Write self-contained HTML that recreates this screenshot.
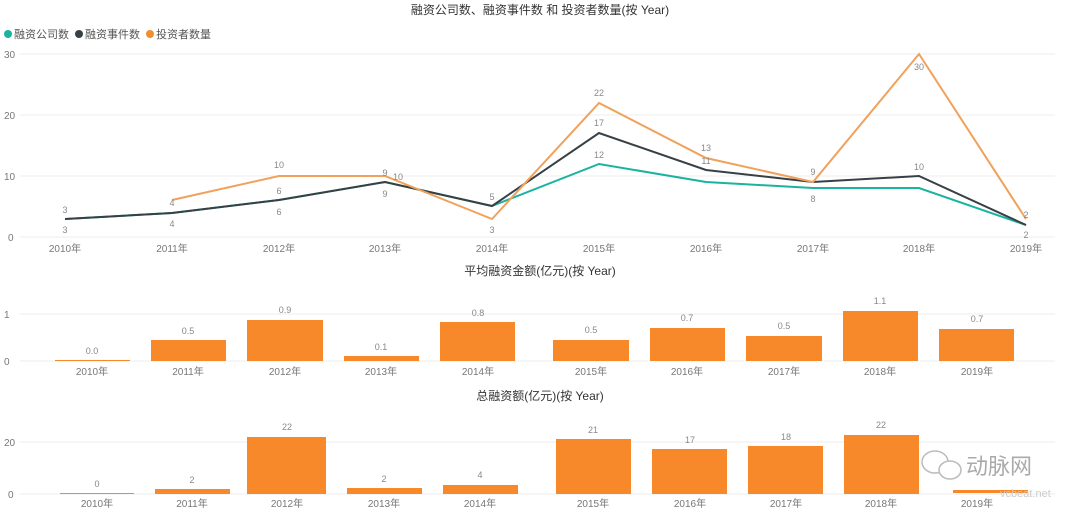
<!DOCTYPE html>
<html><head><meta charset="utf-8"><style>
html,body{margin:0;padding:0;background:#fff;}
svg{display:block;font-family:"Liberation Sans","Noto Sans CJK SC",sans-serif;}
.t{font-size:10px;fill:#777;}
.v{font-size:9px;fill:#888;text-anchor:middle;}
.x{font-size:10px;fill:#777;text-anchor:middle;}
.ti{font-size:12px;fill:#333;text-anchor:middle;}
.g{stroke:#eee;stroke-width:1;}
</style></head><body>
<svg width="1080" height="516" viewBox="0 0 1080 516">
<text class="ti" x="540" y="14">融资公司数、融资事件数 和 投资者数量(按 Year)</text>
<circle cx="8" cy="34" r="4" fill="#1ab39f"/><text x="14" y="38" font-size="11" fill="#555">融资公司数</text>
<circle cx="79" cy="34" r="4" fill="#374045"/><text x="85" y="38" font-size="11" fill="#555">融资事件数</text>
<circle cx="150" cy="34" r="4" fill="#f28e2c"/><text x="156" y="38" font-size="11" fill="#555">投资者数量</text>
<line class="g" x1="20" y1="54" x2="1055" y2="54"/>
<line class="g" x1="20" y1="115" x2="1055" y2="115"/>
<line class="g" x1="20" y1="176" x2="1055" y2="176"/>
<line class="g" x1="20" y1="237" x2="1055" y2="237"/>
<text class="t" x="4" y="58">30</text><text class="t" x="4" y="119">20</text><text class="t" x="4" y="180">10</text><text class="t" x="8" y="241">0</text>
<g class="x">
<text x="65" y="252">2010年</text><text x="172" y="252">2011年</text><text x="279" y="252">2012年</text><text x="385" y="252">2013年</text><text x="492" y="252">2014年</text><text x="599" y="252">2015年</text><text x="706" y="252">2016年</text><text x="813" y="252">2017年</text><text x="919" y="252">2018年</text><text x="1026" y="252">2019年</text>
</g>
<polyline fill="none" stroke="#1ab39f" stroke-width="2" points="65,219 172,213 279,200 385,182 492,206 599,164 706,182 813,188 919,188 1026,225"/>
<polyline fill="none" stroke="#374045" stroke-width="2" points="65,219 172,213 279,200 385,182 492,206 599,133 706,170 813,182 919,176 1026,225"/>
<polyline fill="none" stroke="#f0a15a" stroke-width="2" points="172,200 279,176 385,176 492,219 599,103 706,158 813,182 919,54 1026,219"/>
<g class="v">
<text x="65" y="213">3</text><text x="65" y="233">3</text>
<text x="172" y="206">4</text><text x="172" y="227">4</text>
<text x="279" y="168">10</text><text x="279" y="194">6</text><text x="279" y="215">6</text>
<text x="385" y="176">9</text><text x="398" y="180">10</text><text x="385" y="197">9</text>
<text x="492" y="200">5</text><text x="492" y="233">3</text>
<text x="599" y="96">22</text><text x="599" y="126">17</text><text x="599" y="158">12</text>
<text x="706" y="151">13</text><text x="706" y="164">11</text>
<text x="813" y="175">9</text><text x="813" y="202">8</text>
<text x="919" y="70">30</text><text x="919" y="170">10</text>
<text x="1026" y="218">2</text><text x="1026" y="238">2</text>
</g>

<text class="ti" x="540" y="275">平均融资金额(亿元)(按 Year)</text>
<line class="g" x1="20" y1="314" x2="1055" y2="314"/>
<line class="g" x1="20" y1="361" x2="1055" y2="361"/>
<text class="t" x="4" y="318">1</text><text class="t" x="4" y="365">0</text>
<g fill="#f7892a">
<rect x="55" y="360" width="75" height="1"/>
<rect x="151" y="340" width="75" height="21"/>
<rect x="247" y="320" width="76" height="41"/>
<rect x="344" y="356" width="75" height="5"/>
<rect x="440" y="322" width="75" height="39"/>
<rect x="553" y="340" width="76" height="21"/>
<rect x="650" y="328" width="75" height="33"/>
<rect x="746" y="336" width="76" height="25"/>
<rect x="843" y="311" width="75" height="50"/>
<rect x="939" y="329" width="75" height="32"/>
</g>
<g class="v">
<text x="92" y="354">0.0</text><text x="188" y="334">0.5</text><text x="285" y="313">0.9</text><text x="381" y="350">0.1</text><text x="478" y="316">0.8</text>
<text x="591" y="333">0.5</text><text x="687" y="321">0.7</text><text x="784" y="329">0.5</text><text x="880" y="304">1.1</text><text x="977" y="322">0.7</text>
</g>
<g class="x">
<text x="92" y="375">2010年</text><text x="188" y="375">2011年</text><text x="285" y="375">2012年</text><text x="381" y="375">2013年</text><text x="478" y="375">2014年</text><text x="591" y="375">2015年</text><text x="687" y="375">2016年</text><text x="784" y="375">2017年</text><text x="880" y="375">2018年</text><text x="977" y="375">2019年</text>
</g>

<text class="ti" x="540" y="400">总融资额(亿元)(按 Year)</text>
<line class="g" x1="20" y1="442" x2="1055" y2="442"/>
<line class="g" x1="20" y1="494" x2="1055" y2="494"/>
<text class="t" x="4" y="446">20</text><text class="t" x="8" y="498">0</text>
<g fill="#f7892a">
<rect x="60" y="493" width="74" height="1"/>
<rect x="155" y="489" width="75" height="5"/>
<rect x="247" y="437" width="79" height="57"/>
<rect x="347" y="488" width="75" height="6"/>
<rect x="443" y="485" width="75" height="9"/>
<rect x="556" y="439" width="75" height="55"/>
<rect x="652" y="449" width="75" height="45"/>
<rect x="748" y="446" width="75" height="48"/>
<rect x="844" y="435" width="75" height="59"/>
<rect x="953" y="490" width="75" height="3"/>
</g>
<g class="v">
<text x="97" y="487">0</text><text x="192" y="483">2</text><text x="287" y="430">22</text><text x="384" y="482">2</text><text x="480" y="478">4</text>
<text x="593" y="433">21</text><text x="690" y="443">17</text><text x="786" y="440">18</text><text x="881" y="428">22</text>
</g>
<g class="x">
<text x="97" y="507">2010年</text><text x="192" y="507">2011年</text><text x="287" y="507">2012年</text><text x="384" y="507">2013年</text><text x="480" y="507">2014年</text><text x="593" y="507">2015年</text><text x="690" y="507">2016年</text><text x="786" y="507">2017年</text><text x="881" y="507">2018年</text><text x="977" y="507">2019年</text>
</g>
<ellipse cx="935" cy="462" rx="13" ry="11" fill="#fff" stroke="#bbb" stroke-width="1.5"/>
<ellipse cx="950" cy="470" rx="11" ry="9" fill="#fff" stroke="#bbb" stroke-width="1.5"/>
<text x="966" y="474" font-size="22" fill="#aaa">动脉网</text>
<text x="1000" y="497" font-size="11" fill="#ccc">vcbeat.net</text>
</svg>
</body></html>
